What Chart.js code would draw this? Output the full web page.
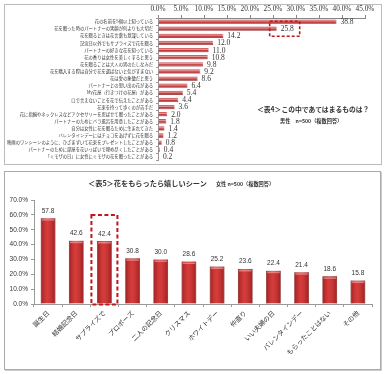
<!DOCTYPE html>
<html><head><meta charset="utf-8">
<script src="https://cdn.jsdelivr.net/npm/chart.js@4.4.1/dist/chart.umd.min.js"></script>
<style>
body{margin:0;width:384px;height:374px;position:relative;background:#fff;overflow:hidden;font-family:"Noto Sans CJK JP",sans-serif;color:#333}
.panel{position:absolute;box-sizing:border-box}
canvas{position:absolute;left:0}
.t{position:absolute;white-space:nowrap;font-weight:bold}
</style></head><body>
<div class="panel" style="left:4px;top:4px;width:378px;height:161px;border:1px solid #bbb"></div>
<div class="panel" style="left:4px;top:171px;width:377px;height:199px;border:1px solid #aaa;box-shadow:1px 1px 0 #ccc"></div>
<canvas id="c1" width="384" height="166" style="top:0"></canvas>
<canvas id="c2" width="384" height="200" style="top:170px"></canvas>
<div class="t" style="left:257px;top:104px;font-size:6.8px">＜表4＞この中であてはまるものは？</div>
<div class="t" style="left:280px;top:117px;font-size:5.2px">男性　n=500（複数回答）</div>
<div class="t" style="left:88px;top:178px;font-size:7.2px">＜表5＞花をもらったら嬉しいシーン<span style="font-size:5.2px;margin-left:9px">女性 n=500（複数回答）</span></div>
<script>
const topCategories = [
 "花の名前を5個以上知っている",
 "花を贈った時のパートナーの笑顔が何よりも大切だ",
 "花を贈るときは花言葉も意識している",
 "記念日以外でもサプライズで花を贈る",
 "パートナーの好きな花を知っている",
 "花の香りは女性を美しくすると思う",
 "花を贈ることは大人の男のたしなみだ",
 "花を購入する際は自分で花を選ばないと気がすまない",
 "花は愛の象徴だと思う",
 "パートナーとの思い出の花がある",
 "My花屋（行きつけの花屋）がある",
 "口で言えないことを花で伝えたことがある",
 "花束を持って歩くのが苦手だ",
 "花に指輪やネックレスなどアクセサリーを忍ばせて贈ったことがある",
 "パートナーのためにバラ風呂を用意したことがある",
 "自分は女性に花を贈るために生まれてきた",
 "バレンタインデーにはチョコをあげずに花を贈る",
 "映画のワンシーンのように、ひざまずいて花束をプレゼントしたことがある",
 "パートナーのために部屋を花いっぱいで埋め尽くしたことがある",
 "「ミモザの日」に女性にミモザの花を贈ったことがある"
];
const topValues = [38.8,25.8,14.2,12.0,11.0,10.8,9.8,9.2,8.6,6.4,5.4,4.4,3.6,2.0,1.8,1.4,1.2,0.8,0.4,0.2];
const topTickMax = 45, topTickStep = 5;
const topHighlight = 1;

const bottomCategories = ["誕生日","結婚記念日","サプライズで","プロポーズ","二人の記念日","クリスマス","ホワイトデー","仲直り","いい夫婦の日","バレンタインデー","もらったことはない","その他"];
const bottomValues = [57.8,42.6,42.4,30.8,30.0,28.6,25.2,23.6,22.4,21.4,18.6,15.8];
const bottomTickMax = 70, bottomTickStep = 10;
const bottomHighlight = 2;

const valueLabels = {
  id:'valueLabels',
  afterDatasetsDraw(chart, args, o){
    const ctx = chart.ctx, meta = chart.getDatasetMeta(0), data = chart.data.datasets[0].data;
    ctx.save();
    meta.data.forEach(el=>{
      const p = el.getProps(['x','y','base','width','height'],true);
      let g;
      if (o.horizontal){
        const y0 = p.y - p.height/2;
        g = ctx.createLinearGradient(0,y0,0,y0+p.height);
        g.addColorStop(0,'rgba(255,255,255,0.05)');
        g.addColorStop(0.35,'rgba(255,235,235,0.55)');
        g.addColorStop(0.6,'rgba(255,255,255,0.0)');
        g.addColorStop(1,'rgba(60,0,0,0.25)');
        ctx.fillStyle = g;
        ctx.fillRect(p.base, y0, p.x-p.base, p.height);
      } else {
        const x0 = p.x - p.width/2;
        g = ctx.createLinearGradient(x0,0,x0+p.width,0);
        g.addColorStop(0,'rgba(70,0,0,0.35)');
        g.addColorStop(0.45,'rgba(255,120,120,0.18)');
        g.addColorStop(1,'rgba(70,0,0,0.35)');
        ctx.fillStyle = g;
        ctx.fillRect(x0, p.y, p.width, p.base-p.y);
        ctx.fillStyle = 'rgba(255,170,170,0.6)';
        ctx.fillRect(x0+1, p.y+1, p.width-2, 1.5);
      }
    });
    ctx.fillStyle = '#333';
    ctx.font = o.font;
    meta.data.forEach((el,i)=>{
      const t = data[i].toFixed(1);
      if (o.horizontal){
        ctx.textAlign='left'; ctx.textBaseline='middle';
        ctx.fillText(t, el.x+4, el.y+0.5);
      } else {
        ctx.textAlign='center'; ctx.textBaseline='bottom';
        ctx.fillText(t, el.x, el.y-4);
      }
    });
    const el = meta.data[o.highlight];
    ctx.strokeStyle = '#c0171b';
    ctx.setLineDash(o.horizontal ? [3,2] : [4,2.5]);
    ctx.lineWidth = o.horizontal ? 1.6 : 2;
    if (o.horizontal){
      ctx.strokeRect(el.x-7, el.y-7.5, 30, 15);
    } else {
      ctx.strokeRect(el.x-13, el.y-26, 26, el.base-el.y+27);
    }
    ctx.restore();
  }
};

new Chart(document.getElementById('c1'), {
  type:'bar',
  data:{labels:topCategories, datasets:[{data:topValues, backgroundColor:'#c4383a', borderColor:'#9e2224', borderWidth:{top:0,bottom:0.6,left:0,right:0.6}, borderSkipped:false, barPercentage:0.6, categoryPercentage:1}]},
  options:{
    indexAxis:'y', responsive:false, animation:false,
    layout:{padding:{left:0,right:19,top:0,bottom:3}, autoPadding:false},
    plugins:{legend:{display:false}, tooltip:{enabled:false},
      valueLabels:{horizontal:true, highlight:topHighlight, font:'7.5px "Liberation Serif", "DejaVu Serif", serif'}},
    scales:{
      x:{position:'top', min:0, max:topTickMax,
        ticks:{stepSize:topTickStep, autoSkip:false, minRotation:0, maxRotation:0, color:'#333', padding:2, font:{family:'"Liberation Serif", serif', size:7.3}, callback:v=>Number(v).toFixed(1)+'%'},
        grid:{display:true, drawOnChartArea:false, tickLength:3, color:'#888'},
        border:{display:true, color:'#888'},
        afterFit(s){ s.height = 18; }
      },
      y:{ticks:{autoSkip:false, color:'#333', padding:3, font:{family:'"Noto Sans CJK JP", sans-serif', size:4.3}},
        grid:{display:true, drawOnChartArea:false, tickLength:2, color:'#999'},
        border:{display:true, color:'#999'},
        afterFit(s){ s.width = 158; }
      }
    }
  },
  plugins:[valueLabels]
});

new Chart(document.getElementById('c2'), {
  type:'bar',
  data:{labels:bottomCategories, datasets:[{data:bottomValues, backgroundColor:'#cc2f2e', borderColor:'#8e1616', borderWidth:0.6, barPercentage:0.52, categoryPercentage:1}]},
  options:{
    responsive:false, animation:false,
    layout:{padding:{left:0,right:12,top:30,bottom:0}, autoPadding:false},
    plugins:{legend:{display:false}, tooltip:{enabled:false},
      valueLabels:{horizontal:false, highlight:bottomHighlight, font:'6.5px "Liberation Sans", "DejaVu Sans", sans-serif'}},
    scales:{
      x:{ticks:{autoSkip:false, minRotation:45, maxRotation:45, color:'#333', padding:2, font:{family:'"Noto Sans CJK JP", sans-serif', size:6.6}},
        grid:{display:true, drawOnChartArea:false, tickLength:3, color:'#999'},
        border:{display:true, color:'#999'},
        afterFit(s){ s.height = 66; }
      },
      y:{min:0, max:bottomTickMax,
        ticks:{stepSize:bottomTickStep, color:'#333', padding:3, font:{family:'"Liberation Sans", sans-serif', size:6.5}, callback:v=>Number(v).toFixed(1)+'%'},
        grid:{display:true, drawOnChartArea:false, tickLength:3, color:'#999'},
        border:{display:true, color:'#999'},
        afterFit(s){ s.width = 34; }
      }
    }
  },
  plugins:[valueLabels]
});
</script>
</body></html>
